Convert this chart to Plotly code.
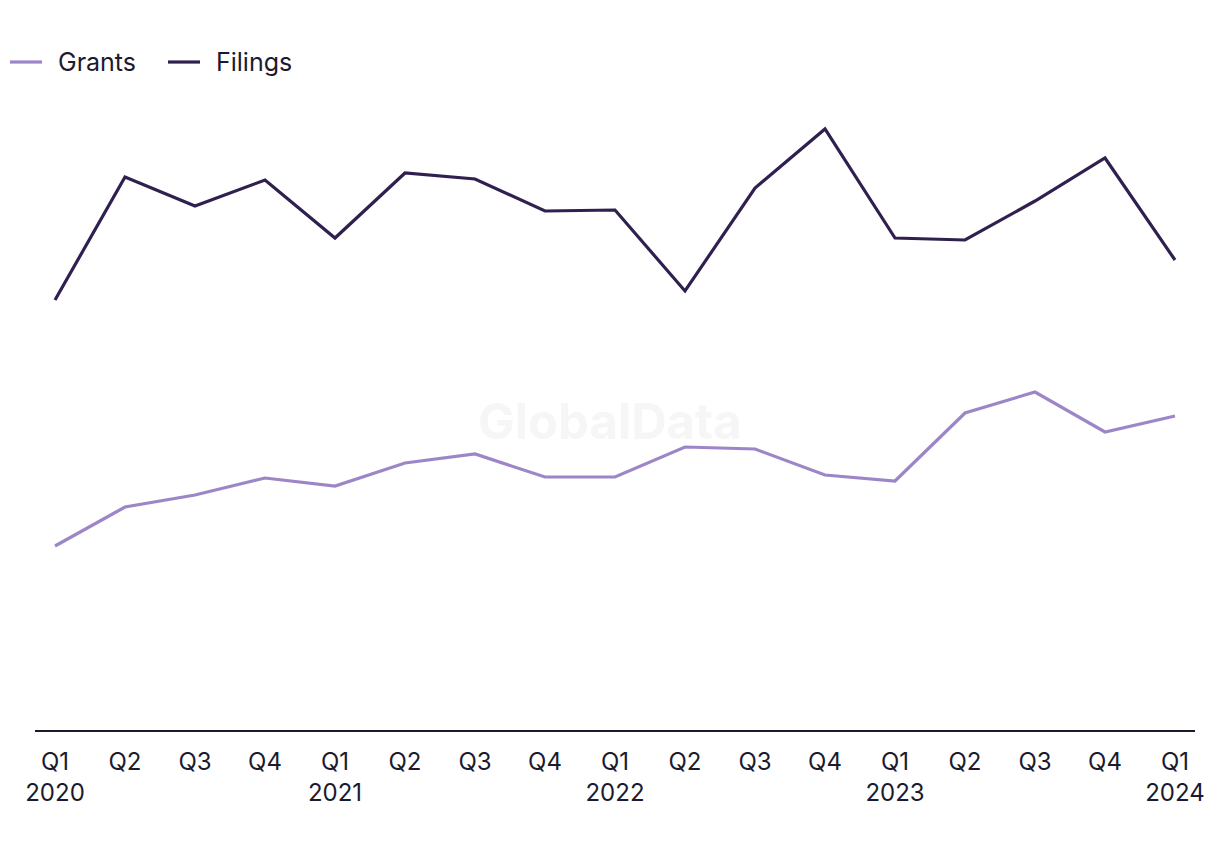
import plotly.graph_objects as go

quarters = ["Q1<br>2020", "Q2", "Q3", "Q4", "Q1<br>2021", "Q2", "Q3", "Q4",
            "Q1<br>2022", "Q2", "Q3", "Q4", "Q1<br>2023", "Q2", "Q3", "Q4", "Q1<br>2024"]
grants = [92, 111.5, 117.5, 126, 122, 133.5, 138, 126.5, 126.5, 141.5, 140.5,
          127.5, 124.5, 158.5, 169, 149, 157]
filings = [215, 276.5, 262, 275, 246, 278.5, 275.5, 259.5, 260, 219.5, 271,
           300.5, 246, 245, 264.5, 286, 235]

series_names = ["Grants", "Filings"]
series_colors = ["#9d86c7", "#30204f"]

x = list(range(len(quarters)))
fig = go.Figure()
for name, vals, col in zip(series_names, [grants, filings], series_colors):
    fig.add_trace(go.Scatter(x=x, y=vals, mode="lines", name=name,
                             line=dict(color=col, width=3.2), showlegend=False))

# Manual legend (line sample + label)
legend_items = [(-0.02155, 0.00603, 0.01810), (0.11466, 0.14224, 0.15430)]
for (x0, x1, xt), name, col in zip(legend_items, series_names, series_colors):
    fig.add_shape(type="line", xref="paper", yref="paper", x0=x0, x1=x1,
                  y0=1.0603, y1=1.0603, line=dict(color=col, width=3.2))
    fig.add_annotation(text=name, x=xt, y=1.0603, xref="paper", yref="paper",
                       xanchor="left", yanchor="middle", showarrow=False,
                       font=dict(size=25, color="#1b1a2e", family="Inter"))

fig.add_annotation(text="<b>GlobalData</b>", x=0.4957, y=0.49, xref="paper", yref="paper",
                   showarrow=False, font=dict(size=49, color="#f6f6f6", family="Inter"))

fig.update_layout(
    width=1220, height=850,
    margin=dict(l=27, r=33, t=92, b=128, autoexpand=False),
    paper_bgcolor="white", plot_bgcolor="white",
    font=dict(family="Inter", color="#1b1a2e", size=24),
    showlegend=False,
    xaxis=dict(tickmode="array", tickvals=x, ticktext=quarters,
               range=[-0.2857, 16.2857], showgrid=False, zeroline=False,
               showline=True, linecolor="#1b1a2e", linewidth=2, ticks="",
               ticklabelstandoff=9,
               tickfont=dict(size=24, color="#1b1a2e"), automargin=False),
    yaxis=dict(range=[0, 315], visible=False, showgrid=False, automargin=False),
)

fig.write_html("out.html")
